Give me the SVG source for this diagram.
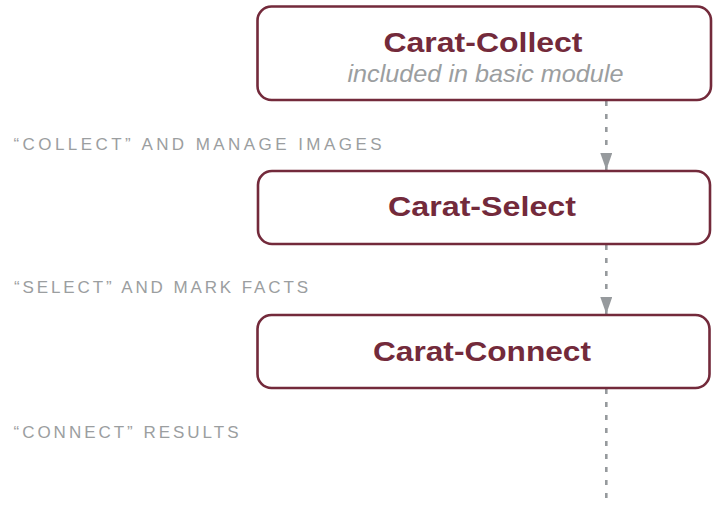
<svg xmlns="http://www.w3.org/2000/svg" width="718" height="511" viewBox="0 0 718 511">
<style>
.box{fill:#ffffff;stroke:#732a3b;stroke-width:2.6}
.title{font-family:"Liberation Sans",Arial,sans-serif;font-weight:bold;font-size:27px;fill:#732a3b;text-anchor:middle}
.sub{font-family:"Liberation Sans",Arial,sans-serif;font-style:italic;font-size:24px;fill:#9b9ea0;text-anchor:middle}
.lbl{font-family:"Liberation Sans",Arial,sans-serif;font-size:17px;fill:#9b9ea0}
.conn{stroke:#969a9d;stroke-width:2.6;stroke-dasharray:5 8;fill:none}
</style>
<defs>
<marker id="arr" markerUnits="userSpaceOnUse" markerWidth="17" markerHeight="12" refX="17" refY="6" orient="auto" viewBox="0 0 17 12">
<path d="M0,0 L17,6 L0,12 Z" fill="#969a9d"/>
</marker>
</defs>
<g id="connectors">
<path class="conn" d="M606.3,101 L606.3,170" marker-end="url(#arr)"/>
<path class="conn" d="M606.3,245 L606.3,314" marker-end="url(#arr)"/>
<path class="conn" d="M606.3,389 L606.3,506"/>
</g>
<g id="node-collect">
<rect class="box" x="257.5" y="6.5" width="453.5" height="93.5" rx="14"/>
<text class="title" x="483" y="51.7" textLength="199" lengthAdjust="spacingAndGlyphs">Carat-Collect</text>
<text class="sub" x="485.5" y="81.7" textLength="276" lengthAdjust="spacingAndGlyphs">included in basic module</text>
</g>
<g id="node-select">
<rect class="box" x="258" y="171" width="452" height="73" rx="14"/>
<text class="title" x="482" y="216" textLength="188" lengthAdjust="spacingAndGlyphs">Carat-Select</text>
</g>
<g id="node-connect">
<rect class="box" x="257.5" y="315" width="452" height="73" rx="14"/>
<text class="title" x="482" y="361" textLength="218" lengthAdjust="spacingAndGlyphs">Carat-Connect</text>
</g>
<g id="labels">
<text class="lbl" x="13.5" y="150" textLength="368" lengthAdjust="spacing">“COLLECT” AND MANAGE IMAGES</text>
<text class="lbl" x="14" y="293.3" textLength="294" lengthAdjust="spacing">“SELECT” AND MARK FACTS</text>
<text class="lbl" x="13.5" y="438" textLength="225" lengthAdjust="spacing">“CONNECT” RESULTS</text>
</g>
</svg>
